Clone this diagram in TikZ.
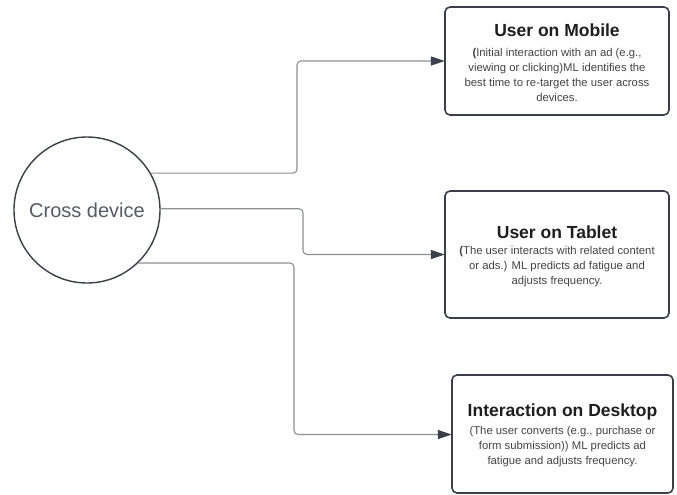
\documentclass[tikz,border=0pt]{standalone}
\usepackage{fontspec}
\setmainfont{Liberation Sans}
\usetikzlibrary{arrows.meta}
\definecolor{boxline}{HTML}{3B3F47}
\definecolor{connline}{HTML}{8C8F95}
\definecolor{arrowdark}{HTML}{3B3F4A}
\definecolor{titlecol}{HTML}{1E1E1E}
\definecolor{bodycol}{HTML}{444444}
\definecolor{circtext}{HTML}{555A63}
\tikzset{
  devbox/.style={draw=boxline, line width=1.6pt, rounded corners=5pt, fill=white},
  titletext/.style={font=\fontsize{17.5}{21}\selectfont\bfseries, text=titlecol, inner sep=0pt},
  bodytext/.style={font=\fontsize{11.3}{15}\selectfont, text=bodycol, align=center, inner sep=0pt},
  conn/.style={draw=connline, line width=1.1pt, rounded corners=4pt,
    -{Triangle[length=14pt 0,width=9pt 0,color=arrowdark]}},
}
\begin{document}
\begin{tikzpicture}[x=1pt,y=-1pt]
\useasboundingbox (0,0) rectangle (677,495);
% central circle
\node[draw=boxline, line width=1.4pt, circle, minimum size=146pt, inner sep=0pt,
  font=\fontsize{20}{24}\selectfont, text=circtext] (cd) at (87,210) {Cross device};
% boxes
\path[devbox] (445,7) rectangle (669,115);
\node[minimum width=224pt, minimum height=108pt, inner sep=0pt] (mob) at (557,61) {};
\node[titletext] (mobt) at (557,30) {User on Mobile};
\node[bodytext] (mobb) at (557,74.5) {\textbf{(}Initial interaction with an ad (e.g.,\\viewing or clicking)ML identifies the\\best time to re-target the user across\\devices.};
\path[devbox] (445,191) rectangle (669,318);
\node[minimum width=224pt, minimum height=127pt, inner sep=0pt] (tab) at (557,254.5) {};
\node[titletext] (tabt) at (557,232) {User on Tablet};
\node[bodytext] (tabb) at (557,267) {\textbf{(}The user interacts with related content\\or ads.) ML predicts ad fatigue and\\adjusts frequency.};
\path[devbox] (452,375) rectangle (673,493);
\node[minimum width=221pt, minimum height=118pt, inner sep=0pt] (desk) at (562.5,434.5) {};
\node[titletext] (deskt) at (562.5,412) {Interaction on Desktop};
\node[bodytext] (deskb) at (562.5,447) {(The user converts (e.g., purchase or\\form submission)) ML predicts ad\\fatigue and adjusts frequency.};
% junction columns
\coordinate (j1) at (297,0);
\coordinate (j2) at (303,0);
\coordinate (j3) at (294,0);
% connectors
\draw[conn] (cd.30.5) -- (cd.30.5 -| j1) |- (mob.west);
\draw[conn] (cd.1) -- (cd.1 -| j2) |- (tab.west);
\draw[conn] (cd.-46.5) -- (cd.-46.5 -| j3) |- (desk.west);
\end{tikzpicture}
\end{document}
